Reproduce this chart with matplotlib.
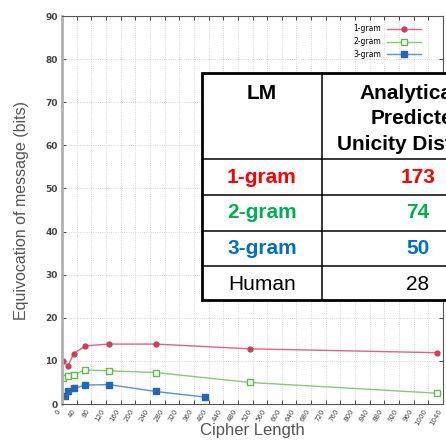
import matplotlib
matplotlib.use("Agg")
import matplotlib.pyplot as plt
from matplotlib.lines import Line2D
from matplotlib.patches import Rectangle

# equivocation curves
x_1gram = [4, 16, 32, 64, 128, 256, 512, 1024]
y_1gram = [10.0, 8.8, 11.7, 13.5, 13.9, 13.9, 12.8, 11.9]
x_2gram = [4, 16, 32, 64, 128, 256, 512, 1024]
y_2gram = [6.0, 6.4, 6.8, 7.9, 7.7, 7.3, 5.0, 2.5]
x_3gram = [8, 16, 32, 64, 128, 256, 390]
y_3gram = [1.8, 3.1, 3.6, 4.4, 4.5, 2.9, 1.6]

x_ticks = list(range(0, 1041, 40))
y_ticks = list(range(0, 91, 10))

# table overlay
table_header = ["LM", "Analytically\nPredicted\nUnicity Distance"]
lm_names = ["1-gram", "2-gram", "3-gram", "Human"]
unicity_values = ["173", "74", "50", "28"]
row_colors = ["#ff0000", "#00b050", "#0070c0", "black"]
row_bold = [True, True, True, False]

W, H = 446, 440


def px(x, y):
    return x / W, 1 - y / H


fig = plt.figure(figsize=(W / 100, H / 100), dpi=100)
ax = fig.add_axes([62 / W, 1 - 404 / H, (443 - 62) / W, (404 - 16) / H])

ax.plot(x_1gram, y_1gram, color="#e0647c", lw=1.0, marker="o", ms=3.5,
        mfc="#c8405a", mec="#c8405a", label="1-gram")
ax.plot(x_2gram, y_2gram, color="#84cc74", lw=1.0, marker="s", ms=4.5,
        mfc="white", mec="#5cbc4c", label="2-gram")
ax.plot(x_3gram, y_3gram, color="#5a8fd4", lw=1.0, marker="s", ms=4.5,
        mfc="#2466b8", mec="#2466b8", label="3-gram")

ax.set_xlim(0, 1040)
ax.set_ylim(0, 90)
ax.set_xticks(x_ticks)
ax.set_yticks(y_ticks)
ax.set_xticklabels([str(t) for t in x_ticks], rotation=60, ha="right",
                   fontsize=5, color="#666666")
ax.set_yticklabels([str(t) for t in y_ticks], fontsize=6.5,
                   fontweight="bold", color="#333333")
ax.tick_params(direction="in", length=3, width=0.7, top=True, right=True,
               colors="#444444", pad=3)
ax.grid(True, ls=":", lw=0.6, color="#c8c8c8")
for side in ["top", "right", "bottom"]:
    ax.spines[side].set_color("#555555")
    ax.spines[side].set_linewidth(0.8)
ax.spines["left"].set_color("#b0b0b0")
ax.spines["left"].set_linewidth(2.0)

ax.set_xlabel("Cipher Length", fontsize=12, color="#555555", labelpad=-3,
              family="Liberation Sans")
ax.set_ylabel("Equivocation of message (bits)", fontsize=11.5,
              color="#555555", labelpad=12, family="Liberation Sans")

ax.legend(loc="upper right", bbox_to_anchor=(0.955, 0.99), frameon=False,
          fontsize=5.5, markerfirst=False, handlelength=4.5, labelspacing=0.5,
          borderaxespad=0.2)

# table drawn in figure pixels
x0, x1, xr = 202, 322, 560
y0, yb = 73, 300
fig.add_artist(Rectangle(px(x0, yb), (xr - x0) / W, (yb - y0) / H,
                         transform=fig.transFigure, facecolor="white",
                         edgecolor="black", lw=2.0, zorder=5))
for yl in [159, 195, 231, 266]:
    fig.add_artist(Line2D([x0 / W, xr / W], [1 - yl / H, 1 - yl / H],
                          transform=fig.transFigure, color="black", lw=1.1,
                          zorder=6))
fig.add_artist(Line2D([x1 / W, x1 / W], [1 - y0 / H, 1 - yb / H],
                      transform=fig.transFigure, color="black", lw=1.1,
                      zorder=6))

font = dict(family="Liberation Sans", fontsize=15, zorder=7)
fig.text(*px(262, 93), table_header[0], ha="center", va="center",
         fontweight="bold", **font)
for i, line in enumerate(table_header[1].split("\n")):
    fig.text(*px(418, 93 + 25.5 * i), line, ha="center", va="center",
             fontweight="bold", **font)
for i, (name, val) in enumerate(zip(lm_names, unicity_values)):
    yc = 177 + 35.8 * i
    wt = "bold" if row_bold[i] else "normal"
    fig.text(*px(262, yc), name, ha="center", va="center",
             color=row_colors[i], fontweight=wt, **font)
    fig.text(*px(418, yc), val, ha="center", va="center",
             color=row_colors[i], fontweight=wt, **font)

fig.savefig("out.png", dpi=100)
